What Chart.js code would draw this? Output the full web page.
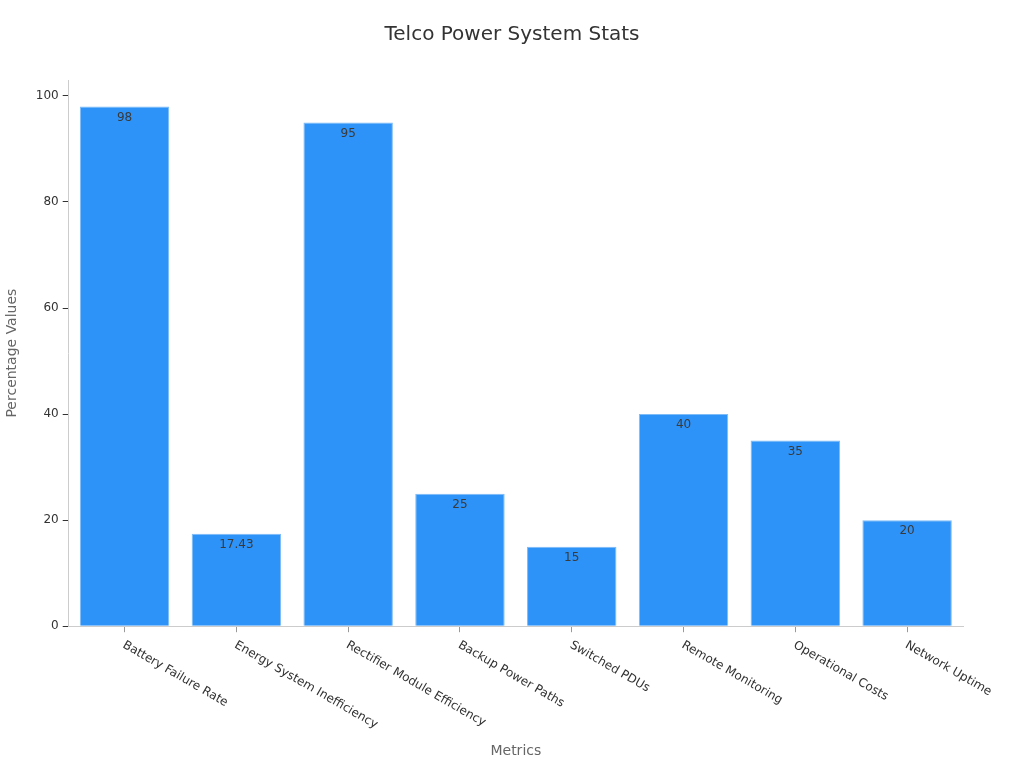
<!DOCTYPE html>
<html>
<head>
<meta charset="utf-8">
<script src="https://cdn.jsdelivr.net/npm/chart.js@4"></script>
<style>
  html, body { margin: 0; padding: 0; background: #fff; }
  #wrap { width: 1024px; height: 768px; }
</style>
</head>
<body>
<div id="wrap"><canvas id="chart"></canvas></div>
<script>
// --- DATA ---
const categories = [
  "Battery Failure Rate", "Energy System Inefficiency", "Rectifier Module Efficiency",
  "Backup Power Paths", "Switched PDUs", "Remote Monitoring", "Operational Costs", "Network Uptime"
];
const values = [98, 17.43, 95, 25, 15, 40, 35, 20];
const yTicks = [0, 20, 40, 60, 80, 100];
const chartTitle = "Telco Power System Stats";

const FONT = "'DejaVu Sans', Verdana, sans-serif";

// value labels at top of each bar
const barLabels = {
  id: "barLabels",
  afterDatasetsDraw(chart) {
    const ctx = chart.ctx;
    const meta = chart.getDatasetMeta(0);
    ctx.save();
    ctx.font = "12px " + FONT;
    ctx.fillStyle = "#3a3a3a";
    ctx.textAlign = "center";
    ctx.textBaseline = "middle";
    meta.data.forEach((bar, i) => {
      ctx.fillText(String(values[i]), bar.x, bar.y + 11);
    });
    ctx.restore();
  }
};

// x labels rotated clockwise, starting at the tick + title centred on the page
const xLabels = {
  id: "xLabels",
  afterDraw(chart) {
    const ctx = chart.ctx;
    const xs = chart.scales.x;
    ctx.save();
    ctx.font = "12px " + FONT;
    ctx.fillStyle = "#333";
    ctx.textAlign = "left";
    ctx.textBaseline = "middle";
    categories.forEach((c, i) => {
      const x = xs.getPixelForTick(i);
      ctx.save();
      ctx.translate(x - 1, xs.top + 18);
      ctx.rotate(Math.PI / 6);
      ctx.fillText(c, 0, 0);
      ctx.restore();
    });
    ctx.font = "20px " + FONT;
    ctx.textAlign = "center";
    ctx.fillText(chartTitle, chart.width / 2, 35);
    ctx.restore();
  }
};

new Chart(document.getElementById("chart"), {
  type: "bar",
  data: {
    labels: categories,
    datasets: [{
      data: values,
      backgroundColor: "#2e93f8",
      borderColor: "#7dbcf7",
      borderWidth: 1,
      barPercentage: 0.8,
      categoryPercentage: 1
    }]
  },
  options: {
    responsive: true,
    maintainAspectRatio: false,
    animation: false,
    layout: { padding: { right: 61 } },
    plugins: {
      legend: { display: false },
      tooltip: { enabled: false },
      title: {
        // space only; text drawn by plugin so it centres on the page
        display: true,
        text: chartTitle,
        color: "rgba(0,0,0,0)",
        font: { family: FONT, size: 20, weight: "normal" },
        padding: { top: 20, bottom: 36 }
      }
    },
    scales: {
      x: {
        grid: { display: true, offset: false, drawOnChartArea: false, drawTicks: true, tickLength: 6, color: "#999" },
        border: { display: true, color: "#ccc" },
        ticks: { display: false },
        title: {
          display: true,
          text: "Metrics",
          color: "#666",
          font: { family: FONT, size: 14 },
          padding: { top: 111, bottom: 8 }
        }
      },
      y: {
        min: 0,
        max: 103,
        afterBuildTicks(scale) { scale.ticks = yTicks.map(v => ({ value: v })); },
        grid: { display: true, drawOnChartArea: false, drawTicks: true, tickLength: 6, color: "#333" },
        border: { display: true, color: "#ccc" },
        ticks: { color: "#333", font: { family: FONT, size: 12 }, padding: 4 },
        title: {
          display: true,
          text: "Percentage Values",
          color: "#666",
          font: { family: FONT, size: 14 },
          padding: { top: 4, bottom: 11 }
        }
      }
    }
  },
  plugins: [barLabels, xLabels]
});
</script>
</body>
</html>
